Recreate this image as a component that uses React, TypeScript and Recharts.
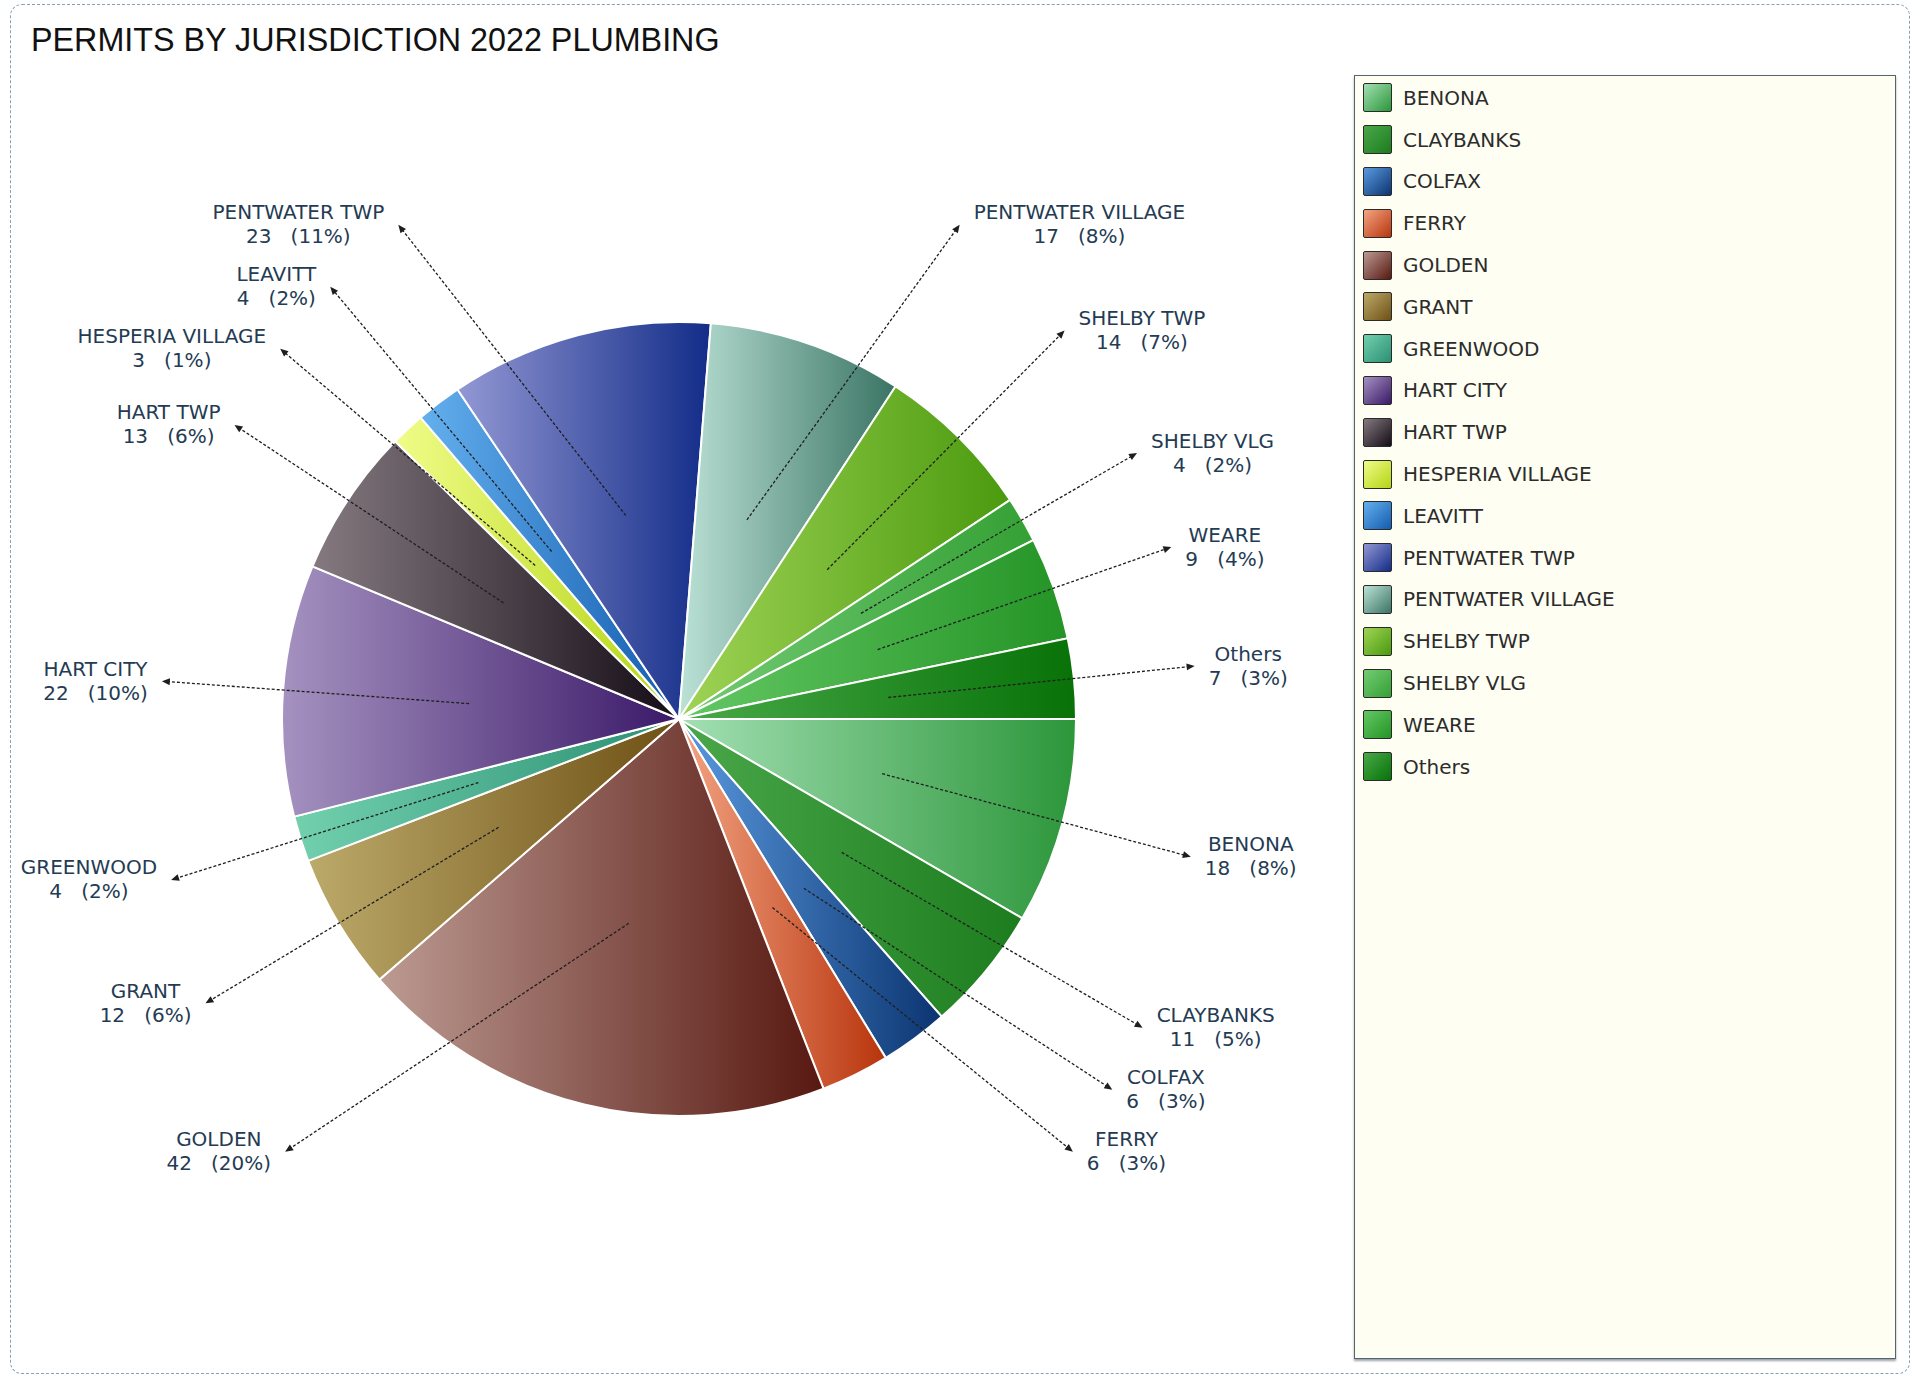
import React from "react";
import { PieChart, Pie, Cell, Legend } from "recharts";

// permits by jurisdiction, 2022 plumbing
const jurisdictions = [
  "BENONA", "CLAYBANKS", "COLFAX", "FERRY", "GOLDEN", "GRANT", "GREENWOOD",
  "HART CITY", "HART TWP", "HESPERIA VILLAGE", "LEAVITT", "PENTWATER TWP",
  "PENTWATER VILLAGE", "SHELBY TWP", "SHELBY VLG", "WEARE", "Others",
];
const permits = [18, 11, 6, 6, 42, 12, 4, 22, 13, 3, 4, 23, 17, 14, 4, 9, 7];

const lightColors = [
  "#a3e0b4", "#4aa84a", "#5a9ae0", "#f3a584", "#bc9a92", "#bcaa6a", "#72d0ae",
  "#a592c0", "#857a80", "#f0fc88", "#64b0ee", "#9398d4", "#bce2d6", "#a0d456",
  "#74cc74", "#64c864", "#48aa48",
];
const darkColors = [
  "#2c963a", "#1c7c1e", "#0b3470", "#b8340c", "#571810", "#6e5014", "#2a9072",
  "#3a1868", "#140c16", "#b4d414", "#145cb0", "#122c88", "#3a7464", "#4a9a0e",
  "#34a034", "#249426", "#087208",
];

const W = 1918;
const H = 1377;
const CX = 679;
const CY = 719;
const R = 397;
const LABEL_FONT = '20px "DejaVu Sans"';
const LABEL_COLOR = "#243b53";

const data = jurisdictions.map((name, i) => ({ name, value: permits[i] }));

let measureCtx: CanvasRenderingContext2D | null = null;
function textWidth(s: string) {
  if (!measureCtx) measureCtx = document.createElement("canvas").getContext("2d");
  if (!measureCtx) return s.length * 12;
  measureCtx.font = LABEL_FONT;
  return measureCtx.measureText(s).width;
}

// labels sit on an ellipse around the pie; spread them per side so they don't collide
function layoutLabels(values: number[]) {
  const total = values.reduce((a, b) => a + b, 0);
  const ea = 1.31 * R, eb = 1.562 * R, ey0 = 0.07 * R;
  const top = CY - 1.245 * R;
  const bottom = CY + 1.09 * R;
  const gap = 62;
  let acc = 0;
  const items = values.map((v, i) => {
    const mid = ((acc + v / 2) / total) * 2 * Math.PI;
    acc += v;
    const c = Math.cos(mid), s = Math.sin(mid);
    const qa = (c * c) / (ea * ea) + (s * s) / (eb * eb);
    const qb = (-2 * s * ey0) / (eb * eb);
    const qc = (ey0 * ey0) / (eb * eb) - 1;
    const t = (-qb + Math.sqrt(qb * qb - 4 * qa * qc)) / (2 * qa);
    const ideal = CY + t * s;
    return { i, side: c >= 0 ? 1 : -1, ideal, y: Math.min(Math.max(ideal, top), bottom), x: 0 };
  });
  [1, -1].forEach(side => {
    const g = items.filter(it => it.side === side).sort((a, b) => a.ideal - b.ideal);
    for (let k = 1; k < g.length; k++) g[k].y = Math.max(g[k].y, g[k - 1].y + gap);
    if (g.length) g[g.length - 1].y = Math.min(g[g.length - 1].y, bottom);
    for (let k = g.length - 2; k >= 0; k--) g[k].y = Math.min(g[k].y, g[k + 1].y - gap);
  });
  items.forEach(it => {
    const d = (it.y - CY - ey0) / eb;
    it.x = CX + it.side * ea * Math.sqrt(Math.max(0, 1 - d * d));
  });
  const out: { x: number; y: number; side: number }[] = [];
  items.forEach(it => (out[it.i] = { x: it.x, y: it.y, side: it.side }));
  return out;
}

const labelPos = layoutLabels(permits);

const renderLabel = (props: any) => {
  const { cx, cy, midAngle, outerRadius, index, value, percent } = props;
  const rad = Math.PI / 180;
  const sx = cx + 0.53 * outerRadius * Math.cos(-midAngle * rad);
  const sy = cy + 0.53 * outerRadius * Math.sin(-midAngle * rad);
  const p = labelPos[index];
  const ex = p.x, ey = p.y;
  const len = Math.hypot(ex - sx, ey - sy) || 1;
  const ux = (ex - sx) / len, uy = (ey - sy) / len;
  const head = `${ex},${ey} ${ex - 8 * ux - 3.5 * uy},${ey - 8 * uy + 3.5 * ux} ${ex - 8 * ux + 3.5 * uy},${ey - 8 * uy - 3.5 * ux}`;
  const line1 = jurisdictions[index];
  const line2 = `${value}   (${Math.round(percent * 100)}%)`;
  const bw = Math.max(textWidth(line1), textWidth(line2));
  const tx = p.side > 0 ? ex + 14 + bw / 2 : ex - 14 - bw / 2;
  return (
    <g key={`lbl-${index}`}>
      <line x1={sx} y1={sy} x2={ex - 6 * ux} y2={ey - 6 * uy} stroke="#1e1e1e" strokeWidth={1.3} strokeDasharray="3 2" />
      <polygon points={head} fill="#1e1e1e" />
      <text x={tx} y={ey - 5.5} textAnchor="middle" fill={LABEL_COLOR} style={{ font: LABEL_FONT, whiteSpace: "pre" }}>{line1}</text>
      <text x={tx} y={ey + 18.5} textAnchor="middle" fill={LABEL_COLOR} style={{ font: LABEL_FONT, whiteSpace: "pre" }}>{line2}</text>
    </g>
  );
};

const LegendBox = () => (
  <div style={{
    width: 542, height: 1284, background: "#fefef3", border: "1.5px solid #55656e",
    boxShadow: "0 2px 2px rgba(60,70,80,0.5)", boxSizing: "border-box", paddingTop: 1,
  }}>
    {jurisdictions.map((name, i) => (
      <div key={name} style={{ display: "flex", alignItems: "center", height: 41.8, paddingLeft: 8 }}>
        <div style={{
          width: 29, height: 29, boxSizing: "border-box", border: "1.5px solid #2a2a2a", borderRadius: 2,
          background: `linear-gradient(135deg, ${lightColors[i]}, ${darkColors[i]})`,
        }} />
        <span style={{ marginLeft: 11, font: '20px "DejaVu Sans"', color: "#2c2c2c" }}>{name}</span>
      </div>
    ))}
  </div>
);

export default function App() {
  return (
    <div style={{ position: "absolute", left: 0, top: 0, width: W, height: H, background: "#fff", overflow: "hidden" }}>
      <div style={{
        position: "absolute", left: 10, top: 4, width: 1900, height: 1370, boxSizing: "border-box",
        border: "1.5px dashed #86a0b4", borderRadius: 12, pointerEvents: "none",
      }} />
      <div style={{
        position: "absolute", left: 31, top: 24, font: '32.3px "Liberation Sans", Arial, sans-serif',
        lineHeight: "32px", color: "#111", whiteSpace: "nowrap",
      }}>
        PERMITS BY JURISDICTION 2022 PLUMBING
      </div>
      <PieChart width={W} height={H} margin={{ top: 0, right: 0, bottom: 0, left: 0 }}>
        <defs>
          {jurisdictions.map((name, i) => (
            <linearGradient key={name} id={`slice-${i}`} x1="0" y1="0" x2="1" y2="0">
              <stop offset="0" stopColor={lightColors[i]} />
              <stop offset="1" stopColor={darkColors[i]} />
            </linearGradient>
          ))}
        </defs>
        <Pie
          data={data}
          dataKey="value"
          nameKey="name"
          cx={CX}
          cy={CY}
          outerRadius={R}
          startAngle={0}
          endAngle={-360}
          stroke="#ffffff"
          strokeWidth={2}
          labelLine={false}
          label={renderLabel}
          isAnimationActive={false}
        >
          {data.map((d, i) => (
            <Cell key={d.name} fill={`url(#slice-${i})`} />
          ))}
        </Pie>
        <Legend
          layout="vertical"
          align="right"
          verticalAlign="top"
          wrapperStyle={{ left: 1354, top: 75, width: 544, height: 1286 }}
          content={() => <LegendBox />}
        />
      </PieChart>
    </div>
  );
}
